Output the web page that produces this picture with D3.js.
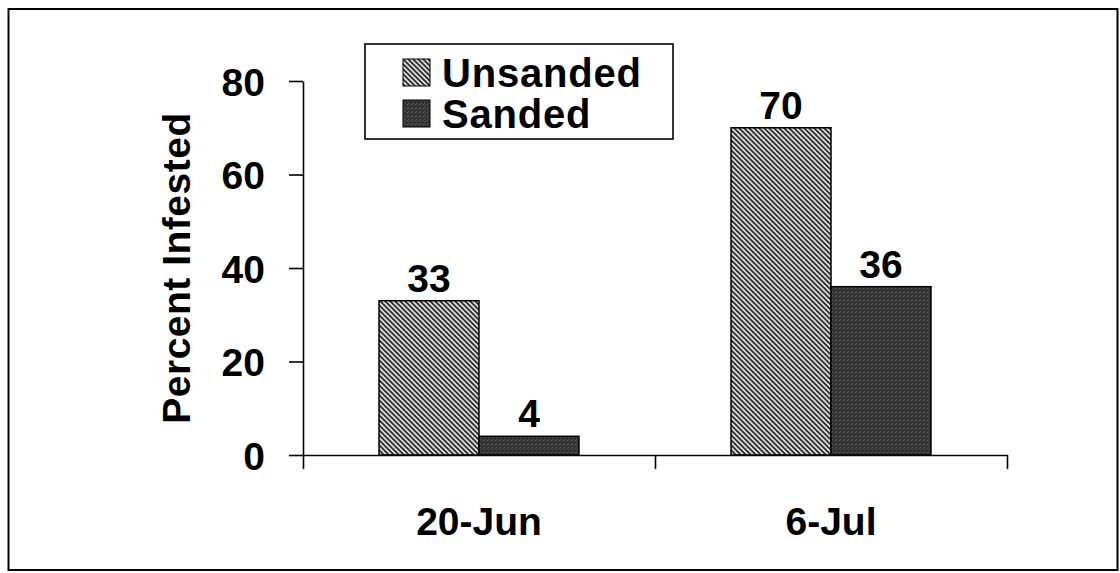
<!DOCTYPE html>
<html>
<head>
<meta charset="utf-8">
<script src="https://cdn.jsdelivr.net/npm/d3@7/dist/d3.min.js"></script>
<style>
  html, body { margin: 0; padding: 0; background: #fff; }
  svg { display: block; }
  text { font-family: "Liberation Sans", Arial, sans-serif; font-weight: bold; fill: #000; }
</style>
</head>
<body>
<svg id="chart" width="1120" height="573"></svg>
<script>
// Sampling dates
const categories = ["20-Jun", "6-Jul"];
// Treatments
const series = ["Unsanded", "Sanded"];
// Percent of samples infested, per treatment
const unsanded = [33, 70];
const sanded = [4, 36];
// Y axis ticks
const yTicks = [0, 20, 40, 60, 80];

const valuesBySeries = { Unsanded: unsanded, Sanded: sanded };
const rows = categories.map((c, i) => ({
  category: c,
  values: series.map(s => ({ key: s, value: valuesBySeries[s][i] }))
}));

const svg = d3.select("#chart");
const W = 1120, H = 573;
svg.append("rect").attr("width", W).attr("height", H).attr("fill", "#fff");

// Fill patterns: diagonal hatch and dark speckle
const defs = svg.append("defs");
const hatch = defs.append("pattern")
  .attr("id", "hatch").attr("patternUnits", "userSpaceOnUse")
  .attr("width", 5).attr("height", 5);
hatch.append("rect").attr("width", 5).attr("height", 5).attr("fill", "#dcdcdc");
hatch.append("path")
  .attr("d", "M-1,-1L6,6M-1,4L1,6M4,-1L6,1")
  .attr("stroke", "#2a2a2a").attr("stroke-width", 1.7);

const speckle = defs.append("pattern")
  .attr("id", "speckle").attr("patternUnits", "userSpaceOnUse")
  .attr("width", 4).attr("height", 4);
speckle.append("rect").attr("width", 4).attr("height", 4).attr("fill", "#353535");
[[0, 0, "#5a5a5a"], [2, 1, "#4a4a4a"], [1, 3, "#555"], [3, 2, "#262626"]].forEach(([x, y, c]) =>
  speckle.append("rect").attr("x", x).attr("y", y).attr("width", 1).attr("height", 1).attr("fill", c));

const fills = { Unsanded: "url(#hatch)", Sanded: "url(#speckle)" };

// Outer frame
svg.append("rect")
  .attr("x", 8.5).attr("y", 9).attr("width", 1109).attr("height", 561)
  .attr("fill", "none").attr("stroke", "#000").attr("stroke-width", 2);

// Scales
const plotLeft = 303, plotRight = 1007, plotTop = 81, plotBottom = 455;
const y = d3.scaleLinear().domain([0, 80]).range([plotBottom, plotTop]);
const x0 = d3.scaleBand().domain(categories).range([plotLeft, plotRight])
  .paddingInner(0.432).paddingOuter(0.216);
const x1 = d3.scaleBand().domain(series).range([0, x0.bandwidth()]);
const xEdges = d3.scaleLinear().domain([0, categories.length]).range([plotLeft, plotRight]);

const font = 39;

// Bars
const groups = svg.append("g").selectAll("g").data(rows).join("g")
  .attr("transform", d => `translate(${x0(d.category)},0)`);
groups.selectAll("rect").data(d => d.values).join("rect")
  .attr("x", d => x1(d.key))
  .attr("y", d => y(d.value))
  .attr("width", x1.bandwidth())
  .attr("height", d => y(0) - y(d.value))
  .attr("fill", d => fills[d.key])
  .attr("stroke", "#000").attr("stroke-width", 1.5);

// Value labels
groups.selectAll("text.val").data(d => d.values).join("text")
  .attr("class", "val")
  .attr("x", d => x1(d.key) + x1.bandwidth() / 2)
  .attr("y", d => y(d.value) - 9)
  .attr("text-anchor", "middle")
  .style("font-size", font + "px")
  .text(d => d.value);

// Y axis
const yAxis = svg.append("g").attr("transform", `translate(${plotLeft},0)`)
  .call(d3.axisLeft(y).tickValues(yTicks).tickSize(14).tickSizeOuter(0).tickPadding(24));
yAxis.selectAll("text").style("font-size", font + "px").attr("dy", "0.36em");
yAxis.selectAll("line, path").attr("stroke", "#000").attr("stroke-width", 1.6);

// X axis with category boundary ticks
const xAxis = svg.append("g").attr("transform", `translate(0,${plotBottom})`)
  .call(d3.axisBottom(xEdges).tickValues(d3.range(categories.length + 1)).tickSize(14).tickSizeOuter(0).tickFormat(""));
xAxis.selectAll("line, path").attr("stroke", "#000").attr("stroke-width", 1.6);

// Category labels
const xLabels = svg.append("g").attr("transform", `translate(0,${plotBottom})`)
  .call(d3.axisBottom(x0).tickSize(0).tickPadding(80));
xLabels.select(".domain").remove();
xLabels.selectAll("text").style("font-size", font + "px").attr("dy", 0);

// Y title
svg.append("text")
  .attr("transform", "translate(190,268) rotate(-90)")
  .attr("text-anchor", "middle")
  .style("font-size", font + "px")
  .style("letter-spacing", "0.5px")
  .text("Percent Infested");

// Legend
const legend = svg.append("g");
legend.append("rect")
  .attr("x", 365).attr("y", 44).attr("width", 308).attr("height", 95)
  .attr("fill", "#fff").attr("stroke", "#000").attr("stroke-width", 1.6);
const items = legend.selectAll("g.item").data(series).join("g")
  .attr("class", "item")
  .attr("transform", (d, i) => `translate(403,${59 + i * 41})`);
items.append("rect")
  .attr("width", 27).attr("height", 27)
  .attr("fill", d => fills[d]).attr("stroke", "#000").attr("stroke-width", 1);
items.append("text")
  .attr("x", 39).attr("y", 28)
  .style("font-size", "40px")
  .style("letter-spacing", "0.8px")
  .text(d => d);
</script>
</body>
</html>
